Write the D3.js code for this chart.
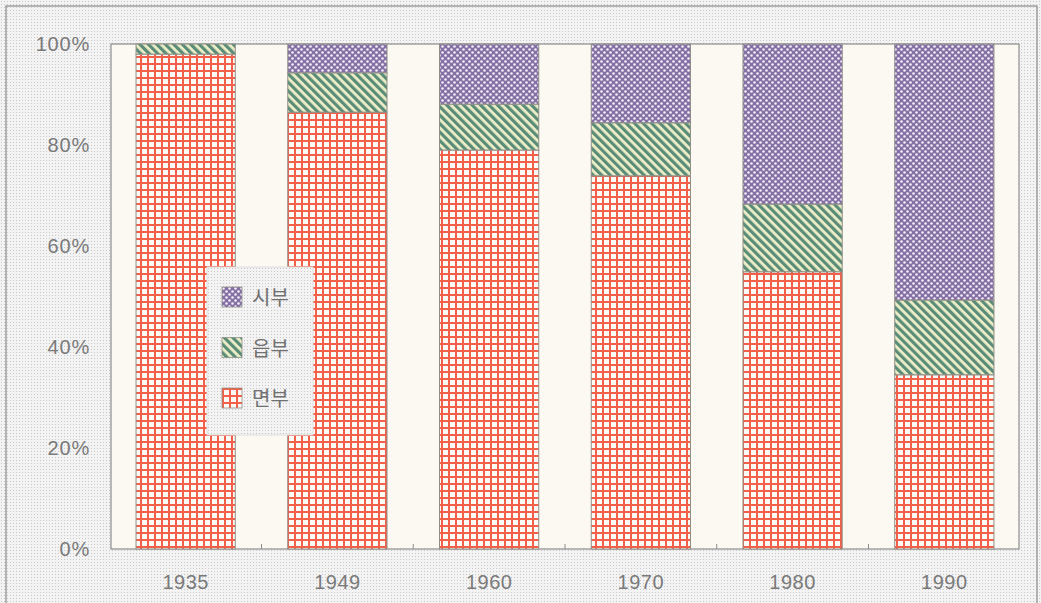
<!DOCTYPE html>
<html><head><meta charset="utf-8">
<script src="https://cdn.jsdelivr.net/npm/d3@7/dist/d3.min.js"></script>
<style>html,body{margin:0;padding:0;background:#fff;}svg{display:block;}</style>
</head><body>
<svg id="c" width="1041" height="603"></svg>
<script>
const years = ["1935","1949","1960","1970","1980","1990"];
const seriesNames = ["면부","읍부","시부"];
const myeonbu = [98.0, 86.5, 79.0, 73.9, 54.9, 34.5];
const eupbu   = [2.0, 7.8, 9.1, 10.5, 13.4, 14.8];
const sibu    = [0.0, 5.7, 11.9, 15.6, 31.7, 50.7];
const yTicks = [0,20,40,60,80,100];

const svg = d3.select("#c");
const defs = svg.append("defs");

const pBg = defs.append("pattern").attr("id","bgdots").attr("patternUnits","userSpaceOnUse").attr("width",3).attr("height",3);
pBg.append("rect").attr("width",3).attr("height",3).attr("fill","#f3f3f3");
pBg.append("rect").attr("x",1).attr("y",1).attr("width",1).attr("height",1).attr("fill","#c8c8c8");

const pG = defs.append("pattern").attr("id","grid").attr("patternUnits","userSpaceOnUse").attr("width",7).attr("height",7);
pG.append("rect").attr("width",7).attr("height",7).attr("fill","#fdfbf6");
pG.append("rect").attr("x",0).attr("y",0).attr("width",7).attr("height",2).attr("fill","#f2604a");
pG.append("rect").attr("x",0).attr("y",0).attr("width",2).attr("height",7).attr("fill","#f2604a");

const pS = defs.append("pattern").attr("id","stripes").attr("patternUnits","userSpaceOnUse").attr("width",6).attr("height",6).attr("patternTransform","rotate(-45)");
pS.append("rect").attr("width",6).attr("height",6).attr("fill","#eeefc8");
pS.append("rect").attr("x",0).attr("y",0).attr("width",3.2).attr("height",6).attr("fill","#5a8c78");

const pD = defs.append("pattern").attr("id","purple").attr("patternUnits","userSpaceOnUse").attr("width",6).attr("height",6);
pD.append("rect").attr("width",6).attr("height",6).attr("fill","#8570a6");
pD.append("circle").attr("cx",1.5).attr("cy",1.5).attr("r",1.3).attr("fill","#f4eef8");
pD.append("circle").attr("cx",4.5).attr("cy",4.5).attr("r",1.3).attr("fill","#f4eef8");

const fills = {"면부":"url(#grid)","읍부":"url(#stripes)","시부":"url(#purple)"};

svg.append("rect").attr("width",1041).attr("height",603).attr("fill","url(#bgdots)");
svg.append("rect").attr("x",6).attr("y",6).attr("width",1031).attr("height",620)
  .attr("fill","none").attr("stroke","#8a8a8a").attr("stroke-width",1.2);

const m = {left:111, right:1019, top:44, bottom:549};
const x = d3.scaleBand().domain(years).range([m.left, m.right]).paddingInner(0.346).paddingOuter(0.165);
const y = d3.scaleLinear().domain([0,100]).range([m.bottom, m.top]);

svg.append("rect").attr("x",m.left).attr("y",m.top).attr("width",m.right-m.left).attr("height",m.bottom-m.top)
  .attr("fill","#fbf9f1").attr("stroke","#8c8c8c").attr("stroke-width",1.2);

const table = years.map((yr,i)=>({year:yr, "면부":myeonbu[i], "읍부":eupbu[i], "시부":sibu[i]}));
const stack = d3.stack().keys(seriesNames)(table);

svg.append("g").selectAll("g").data(stack).join("g")
  .attr("fill", d => fills[d.key])
  .selectAll("rect").data(d => d.filter(p => p[1]-p[0] > 0)).join("rect")
  .attr("x", d => x(d.data.year))
  .attr("width", x.bandwidth())
  .attr("y", d => y(d[1]))
  .attr("height", d => y(d[0]) - y(d[1]))
  .attr("stroke","#8f8f88").attr("stroke-width",1);

const font = "Liberation Sans, Arial, sans-serif";
const yAxis = d3.axisLeft(y).tickValues(yTicks).tickFormat(d => d + "%").tickSize(0).tickPadding(21);
const gy = svg.append("g").attr("transform",`translate(${m.left},0)`).call(yAxis);
gy.select(".domain").remove();
gy.selectAll("text").attr("fill","#7a7a7a").attr("font-family",font).attr("font-size",20).attr("letter-spacing",0.8);

const xAxis = d3.axisBottom(x).tickSize(0).tickPadding(26);
const gx = svg.append("g").attr("transform",`translate(0,${m.bottom})`).call(xAxis);
gx.select(".domain").remove();
gx.selectAll("text").attr("fill","#7a7a7a").attr("font-family",font).attr("font-size",20).attr("letter-spacing",0.5);

const between = years.slice(1).map((yr,i) => (x(years[i]) + x.bandwidth() + x(yr))/2);
svg.append("g").selectAll("line").data(between).join("line")
  .attr("x1", d=>d).attr("x2", d=>d).attr("y1", m.bottom).attr("y2", m.bottom-5)
  .attr("stroke","#8c8c8c").attr("stroke-width",1);

const lg = svg.append("g").attr("transform","translate(207,267)");
lg.append("rect").attr("width",106).attr("height",168).attr("fill","url(#bgdots)").attr("stroke","#dedede").attr("stroke-width",1);
const legendOrder = ["시부","읍부","면부"];
const li = lg.selectAll("g").data(legendOrder).join("g").attr("transform",(d,i)=>`translate(15,${20+i*50.5})`);
li.append("rect").attr("width",20).attr("height",20).attr("fill", d=>fills[d]).attr("stroke","#8f8f88").attr("stroke-width",0.8);
li.append("text").attr("x",30).attr("y",18).text(d=>d).attr("fill","#707070")
  .attr("font-family","Noto Sans CJK KR, sans-serif").attr("font-size",20);
</script>
</body></html>
